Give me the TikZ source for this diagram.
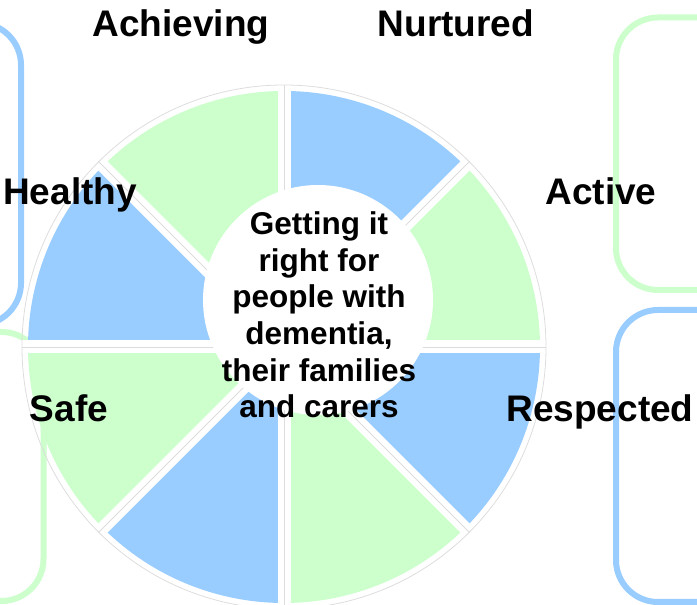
\documentclass[tikz,border=0pt]{standalone}
\usepackage{fontspec}
\setmainfont{Liberation Sans}
\usetikzlibrary{positioning}

\definecolor{wheelblue}{HTML}{99CCFF}
\definecolor{wheelgreen}{HTML}{CCFFCC}
\definecolor{rimgray}{HTML}{DDDDDD}

\begin{document}
\begin{tikzpicture}[
    x=1pt, y=1pt,
    outcome/.style={font=\fontsize{37}{40}\selectfont\bfseries, anchor=base, inner sep=0pt},
    hub/.style={circle, fill=white, minimum size=230pt, inner sep=0pt},
    hubtext/.style={font=\fontsize{31.5}{36.6}\selectfont\bfseries, align=center, inner sep=0pt},
    frame/.style={line width=6pt, rounded corners=42pt},
    gap/.style={white, line width=13pt},
    rim/.style={rimgray, line width=0.8pt},
]

% Page area
\useasboundingbox (0,0) rectangle (697,605);
\clip (0,0) rectangle (697,605);

% Side frames
\draw[frame, wheelblue] (-60,280) rectangle (21,582);
\draw[frame, wheelgreen] (-60,4) rectangle (43.5,273);
\draw[frame, wheelgreen] (616,315) rectangle (760,587.5);
\draw[frame, wheelblue] (616,3) rectangle (760,295);

% Wheel segments
\coordinate (pc) at (284,258);
\foreach \a/\col in {0/wheelgreen,45/wheelblue,90/wheelgreen,135/wheelblue,
                     180/wheelgreen,225/wheelblue,270/wheelgreen,315/wheelblue}
  \fill[\col] (pc) -- ++(\a:256) arc[start angle=\a, end angle=\a+45, radius=256] -- cycle;

% Gaps between segments
\foreach \a in {0,45,...,315} {
  \draw[gap] (pc) -- ++(\a:263);
  \draw[rim] (pc) -- ++(\a:262);
}
\draw[rim] (pc) circle[radius=262];

% Hub
\node[hub] (hub) at (318,305) {};
\node[hubtext] (hubtext) at (319,290) {Getting it\\right for\\people with\\dementia,\\their families\\and carers};

% Outcome labels
\node[outcome] (achieving) at (181,568) {Achieving};
\node[outcome] (nurtured) at (456,568) {Nurtured};
\node[outcome] (healthy) at (70,400) {Healthy};
\node[outcome] (active) at (601,400) {Active};
\node[outcome] (safe) at (69,183) {Safe};
\node[outcome] (respected) at (600,183) {Respected};

\end{tikzpicture}
\end{document}
